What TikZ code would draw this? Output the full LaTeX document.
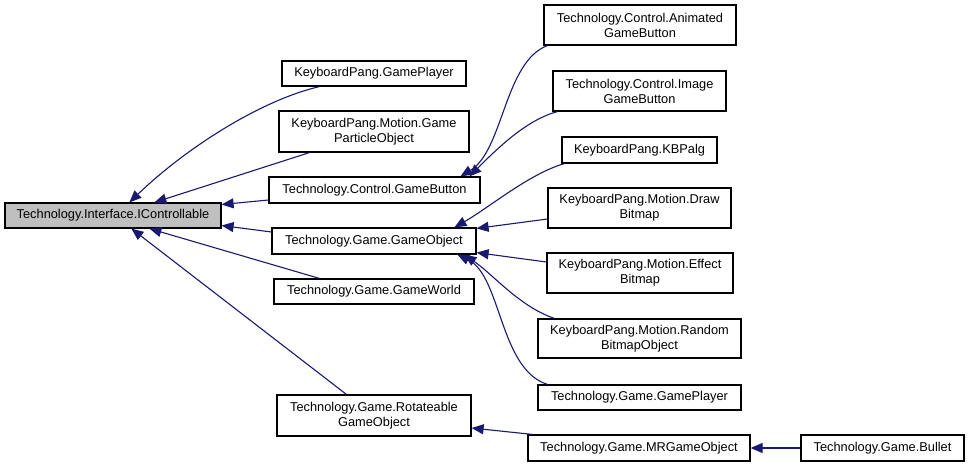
\documentclass[tikz,border=0pt]{standalone}
\usepackage{fontspec}
\setmainfont{Liberation Sans}
\usetikzlibrary{arrows.meta}

\definecolor{edgeblue}{HTML}{191970}
\definecolor{rootgray}{HTML}{BFBFBF}

\begin{document}
\begin{tikzpicture}[x=1pt, y=-1pt,
  cls/.style={draw, rectangle, line width=1.2pt, inner sep=0pt, align=center,
    font=\fontsize{12.8}{15}\selectfont},
  isa/.style={edgeblue, line width=1.1pt, -{Triangle[length=12pt, width=10pt]}}]
\useasboundingbox (0, 0) rectangle (971, 467);

\node [cls, fill=rootgray, minimum width=216pt, minimum height=25pt] (ictrl) at (113, 215.5) {Technology.Interface.IControllable};

\node [cls, minimum width=184pt, minimum height=25pt] (kpplayer) at (374, 73.5) {KeyboardPang.GamePlayer};
\node [cls, minimum width=190pt, minimum height=41pt] (particle) at (374, 131.5) {KeyboardPang.Motion.Game\\ParticleObject};
\node [cls, minimum width=211pt, minimum height=26pt] (button) at (374.5, 190) {Technology.Control.GameButton};
\node [cls, minimum width=204pt, minimum height=26pt] (gobj) at (374, 241) {Technology.Game.GameObject};
\node [cls, minimum width=200pt, minimum height=25pt] (world) at (374, 291.5) {Technology.Game.GameWorld};
\node [cls, minimum width=194pt, minimum height=41pt] (rotate) at (374, 415.5) {Technology.Game.Rotateable\\GameObject};

\node [cls, minimum width=192pt, minimum height=40pt] (animated) at (640, 25) {Technology.Control.Animated\\GameButton};
\node [cls, minimum width=173pt, minimum height=40pt] (image) at (639.5, 91) {Technology.Control.Image\\GameButton};
\node [cls, minimum width=155pt, minimum height=26pt] (kbpalg) at (639.5, 150) {KeyboardPang.KBPalg};
\node [cls, minimum width=183pt, minimum height=40pt] (drawbmp) at (639.5, 208) {KeyboardPang.Motion.Draw\\Bitmap};
\node [cls, minimum width=186pt, minimum height=40pt] (effect) at (640, 273) {KeyboardPang.Motion.Effect\\Bitmap};
\node [cls, minimum width=203pt, minimum height=39pt] (random) at (639.5, 338.5) {KeyboardPang.Motion.Random\\BitmapObject};
\node [cls, minimum width=203pt, minimum height=25pt] (tplayer) at (639.5, 397.5) {Technology.Game.GamePlayer};
\node [cls, minimum width=222pt, minimum height=26pt] (mrgo) at (639, 448) {Technology.Game.MRGameObject};
\node [cls, minimum width=163pt, minimum height=26pt] (bullet) at (882.5, 448) {Technology.Game.Bullet};

\draw [isa] ([xshift=38pt]kpplayer.south west) .. controls +(-60, 14) and +(55, -53) .. ([xshift=125pt]ictrl.north west);
\draw [isa] ([xshift=31pt]particle.south west) -- ([xshift=150pt]ictrl.north west);
\draw [isa] ([yshift=-10pt]button.west) -- ([yshift=11pt]ictrl.east);
\draw [isa] ([yshift=9pt]gobj.west) -- ([yshift=-10pt]ictrl.east);
\draw [isa] ([xshift=46pt]world.north west) -- ([xshift=145pt]ictrl.south west);
\draw [isa] ([xshift=70pt]rotate.north west) -- ([xshift=127pt]ictrl.south west);

\draw [isa] ([xshift=4pt]animated.south west) .. controls +(-43, 16) and +(43, -26) .. ([xshift=192pt]button.north west);
\draw [isa] ([xshift=5pt]image.south west) .. controls +(-30, 8) and +(30, -30) .. ([xshift=201pt]button.north west);

\draw [isa] ([xshift=3pt]kbpalg.south west) .. controls +(-35, 10) and +(35, -20) .. ([xshift=183pt]gobj.north west);
\draw [isa] ([yshift=-11pt]drawbmp.west) -- ([yshift=-1pt]gobj.north east);
\draw [isa] ([yshift=11pt]effect.west) -- ([yshift=2pt]gobj.south east);
\draw [isa] ([xshift=17pt]random.north west) .. controls +(-35, -12) and +(30, 21) .. ([xshift=193pt]gobj.south west);
\draw [isa] ([xshift=10pt]tplayer.north west) .. controls +(-48, -15) and +(44, 21) .. ([xshift=186pt]gobj.south west);

\draw [isa] ([xshift=5pt]mrgo.north west) -- ([yshift=-12.5pt]rotate.east);
\draw [isa] (bullet.west) -- (mrgo.east);

\end{tikzpicture}
\end{document}
